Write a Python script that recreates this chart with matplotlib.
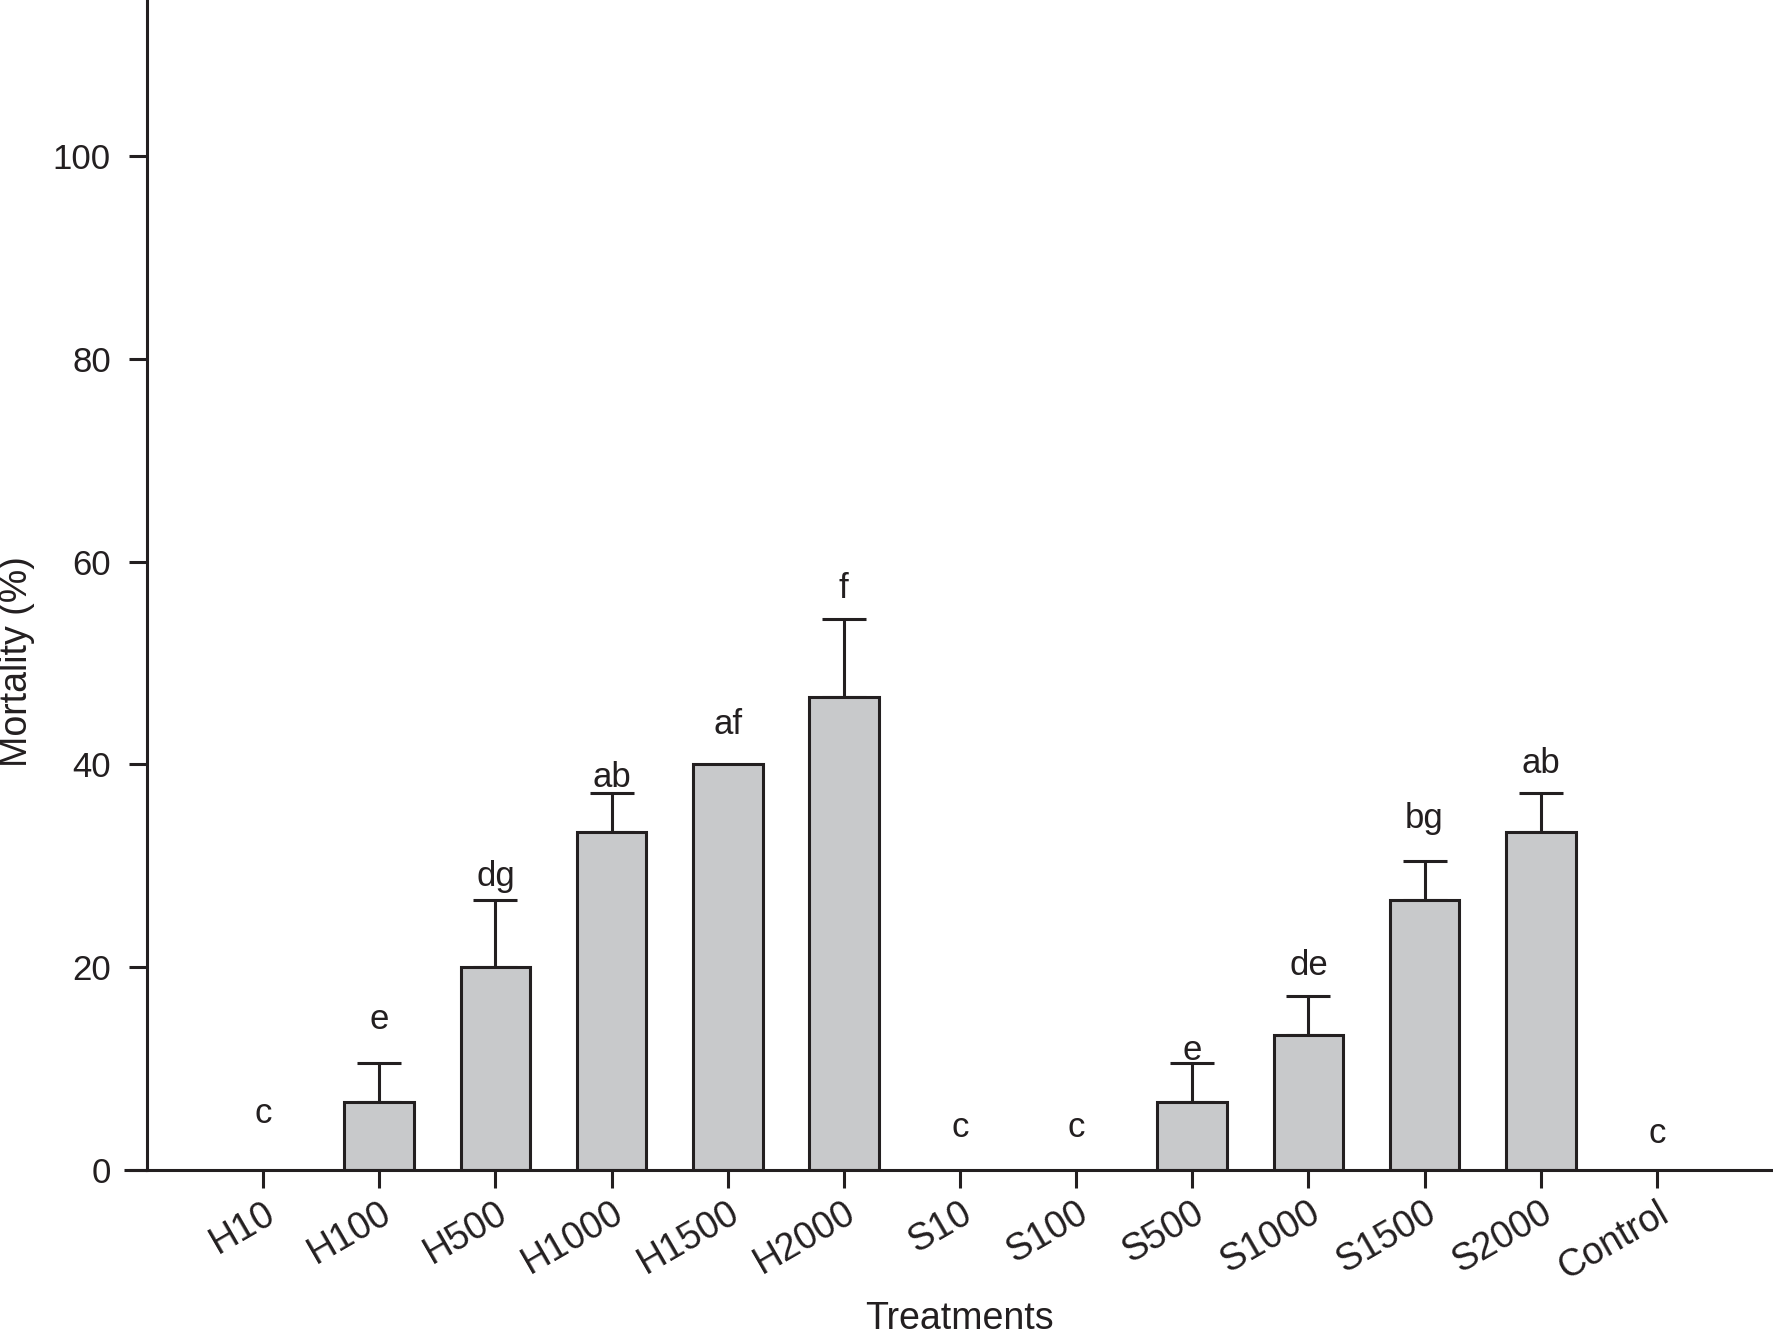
import numpy as np
import matplotlib
matplotlib.use("Agg")
import matplotlib.pyplot as plt
from matplotlib.transforms import ScaledTranslation

plt.rcParams['font.family'] = ['Liberation Sans', 'DejaVu Sans']

# data
treatments = ['H10', 'H100', 'H500', 'H1000', 'H1500', 'H2000',
              'S10', 'S100', 'S500', 'S1000', 'S1500', 'S2000', 'Control']
mortality = [0, 6.67, 20.0, 33.33, 40.0, 46.67,
             0, 0, 6.67, 13.33, 26.67, 33.33, 0]
err = [0, 3.85, 6.67, 3.85, 0, 7.7,
       0, 0, 3.85, 3.85, 3.85, 3.85, 0]
letters = ['c', 'e', 'dg', 'ab', 'af', 'f',
           'c', 'c', 'e', 'de', 'bg', 'ab', 'c']
letter_y = [5.6, 14.8, 28.9, 38.7, 43.9, 57.4,
            4.2, 4.2, 11.8, 20.2, 34.7, 40.1, 3.6]

INK = '#231f20'
FILL = '#c8c9cb'
LW = 2.2

fig = plt.figure(figsize=(17.73, 13.36), dpi=100)
ax = fig.add_axes((0.0829, 0.1243, 0.9171, 0.8757))

x = np.arange(len(treatments))
heights = np.array(mortality)
has_bar = heights > 0
ax.bar(x[has_bar], heights[has_bar], width=0.6, color=FILL,
       edgecolor=INK, linewidth=LW, zorder=2)

# upper error bars only
e = np.array(err)
m = e > 0
ax.errorbar(x[m], heights[m], yerr=[np.zeros(m.sum()), e[m]], fmt='none',
            ecolor=INK, elinewidth=LW, capsize=16, capthick=LW, zorder=1)

for xi, lab, ly in zip(x, letters, letter_y):
    ax.text(xi, ly, lab, ha='center', va='center', fontsize=25, color=INK)

ax.set_xlim(-1, 13)
ax.set_ylim(0, 115.4)
ax.set_yticks([0, 20, 40, 60, 80, 100])
ax.set_xticks(x)
ax.set_xticklabels(treatments, rotation=30, ha='right', va='top',
                   rotation_mode='anchor', fontsize=27)
for lab in ax.get_xticklabels():
    lab.set_transform(lab.get_transform() +
                      ScaledTranslation(-0.02, 0, fig.dpi_scale_trans))

for side in ['top', 'right']:
    ax.spines[side].set_visible(False)
for side in ['left', 'bottom']:
    ax.spines[side].set_linewidth(LW)
    ax.spines[side].set_color(INK)
# bottom axis line runs a little left of the y axis
ax.plot([-0.014, 0], [0, 0], transform=ax.transAxes, color=INK,
        linewidth=LW, clip_on=False, solid_capstyle='butt')

ax.tick_params(axis='both', direction='out', length=13, width=LW,
               color=INK, labelcolor=INK)
ax.tick_params(axis='y', pad=13, labelsize=25)
ax.tick_params(axis='x', pad=5)

fig.text(0.0096, 0.505, 'Mortality (%)', rotation=90, ha='center',
         va='center', fontsize=27, color=INK)
fig.text(0.541, 0.0055, 'Treatments', ha='center', va='baseline',
         fontsize=27, color=INK)

fig.savefig('out.png', dpi=100)
